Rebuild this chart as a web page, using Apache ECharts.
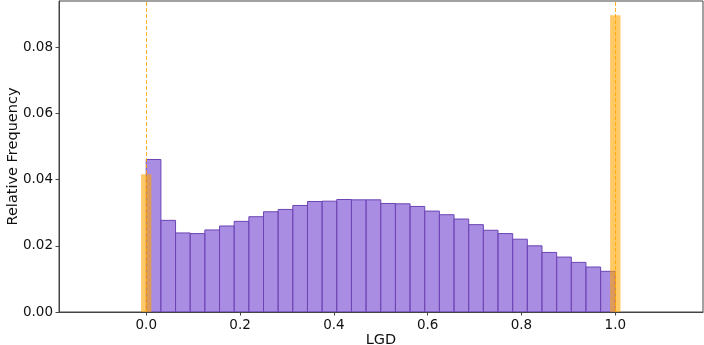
<!DOCTYPE html>
<html><head><meta charset="utf-8">
<script src="https://cdn.jsdelivr.net/npm/echarts@6/dist/echarts.min.js"></script>
<style>html,body{margin:0;padding:0;background:#fff}#c{width:704px;height:345px}</style>
</head><body><div id="c"></div>
<script>
// Histogram of LGD (32 equal bins on [0,1])
const binStart = 0;
const binWidth = 1 / 32;
const lgdFreq = [
  0.0461, 0.0277, 0.0239, 0.0237, 0.0248, 0.0260, 0.0274, 0.0288,
  0.0303, 0.0310, 0.0322, 0.0334, 0.0335, 0.0340, 0.0339, 0.0339,
  0.0328, 0.0327, 0.0319, 0.0305, 0.0294, 0.0281, 0.0264, 0.0247,
  0.0237, 0.0220, 0.0200, 0.0180, 0.0166, 0.0150, 0.0136, 0.0123
];
// Point masses at 0 and 1
const pointMassX = [0, 1];
const pointMassFreq = [0.0416, 0.0897];
const pointMassWidth = 0.022;
const refLines = [0, 1];
const xTicks = [0, 0.2, 0.4, 0.6, 0.8, 1.0];
const yTicks = [0, 0.02, 0.04, 0.06, 0.08];

const histData = lgdFreq.map((h, i) => [binStart + i * binWidth, binStart + (i + 1) * binWidth, h]);
const massData = pointMassFreq.map((h, i) => [pointMassX[i] - pointMassWidth / 2, pointMassX[i] + pointMassWidth / 2, h]);

function rectRenderer(fill, stroke, lw) {
  return function (params, api) {
    const p0 = api.coord([api.value(0), 0]);
    const p1 = api.coord([api.value(1), api.value(2)]);
    return {
      type: 'rect',
      shape: { x: p0[0], y: p1[1], width: p1[0] - p0[0], height: p0[1] - p1[1] },
      style: { fill: fill, stroke: stroke, lineWidth: lw }
    };
  };
}

const font = 'DejaVu Sans';
const chart = echarts.init(document.getElementById('c'), null, { renderer: 'canvas' });
chart.setOption({
  animation: false,
  backgroundColor: '#fff',
  grid: { left: 59, right: 1, top: 1, bottom: 33, outerBoundsMode: 'none', containLabel: false,
          show: true, borderColor: '#444', borderWidth: 1, backgroundColor: 'transparent' },
  xAxis: {
    type: 'value', min: -0.186, max: 1.187,
    name: 'LGD', nameLocation: 'middle', nameGap: 21, nameMoveOverlap: false,
    nameTextStyle: { fontFamily: font, fontSize: 14.5, color: '#111', verticalAlign: 'top' },
    axisLine: { show: true, onZero: false, lineStyle: { color: '#444', width: 1 } },
    axisTick: { show: true, customValues: xTicks, length: 3.5, lineStyle: { color: '#444' } },
    axisLabel: { customValues: xTicks, formatter: v => v.toFixed(1), fontFamily: font, fontSize: 13.5, color: '#111', margin: 6 },
    splitLine: { show: false }
  },
  yAxis: {
    type: 'value', min: 0, max: 0.094,
    name: 'Relative Frequency', nameLocation: 'middle', nameGap: 38, nameMoveOverlap: false,
    nameTextStyle: { fontFamily: font, fontSize: 14.5, color: '#111' },
    axisLine: { show: true, onZero: false, lineStyle: { color: '#444', width: 1 } },
    axisTick: { show: true, customValues: yTicks, length: 3.5, lineStyle: { color: '#444' } },
    axisLabel: { customValues: yTicks, formatter: v => v.toFixed(2), fontFamily: font, fontSize: 13.5, color: '#111', margin: 6 },
    splitLine: { show: false }
  },
  series: [
    {
      type: 'custom', name: 'LGD', data: histData, encode: { x: [0, 1], y: 2 },
      renderItem: rectRenderer('rgba(147,112,219,0.8)', '#6c44b4', 1), clip: true, silent: true, z: 2
    },
    {
      type: 'custom', name: 'mass', data: massData, encode: { x: [0, 1], y: 2 },
      renderItem: rectRenderer('rgba(255,165,0,0.6)', 'rgba(255,165,0,0)', 0), clip: true, silent: true, z: 3,
      markLine: {
        silent: true, symbol: 'none', label: { show: false },
        lineStyle: { color: 'rgba(255,165,0,0.85)', type: [4, 2], width: 1 },
        data: refLines.map(v => ({ xAxis: v }))
      }
    }
  ]
});
</script></body></html>
